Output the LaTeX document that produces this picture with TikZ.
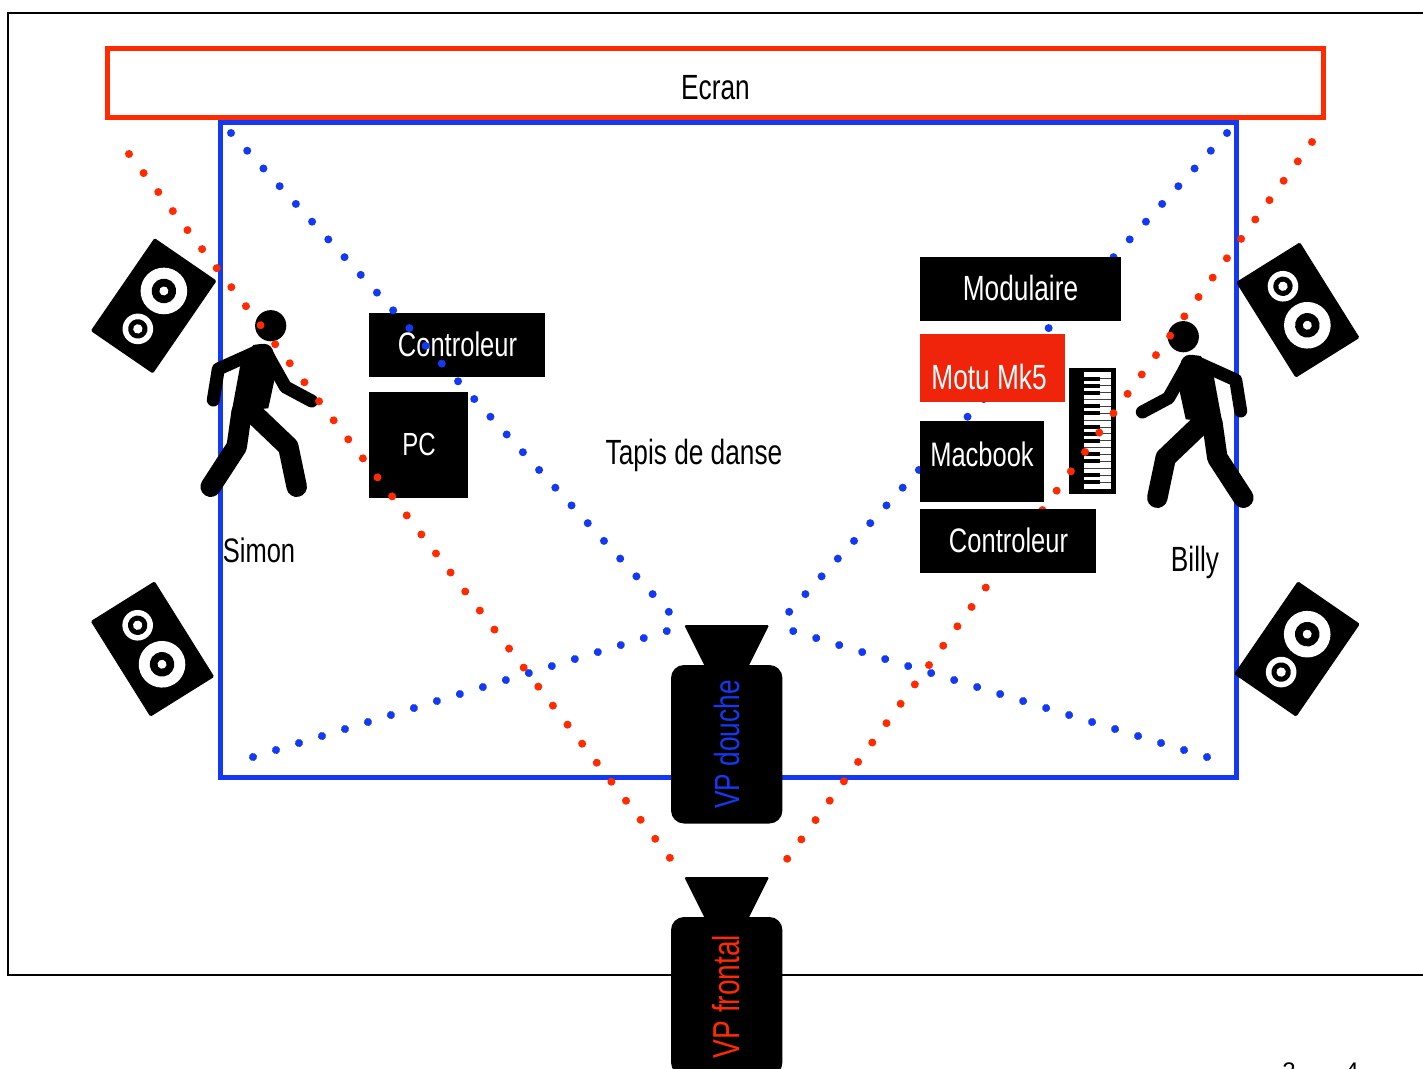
\documentclass[tikz,border=0pt]{standalone}
\usepackage{fontspec}
\setmainfont[FakeStretch=0.75]{Liberation Sans}
\newfontfamily\plainfont{Liberation Sans}
\definecolor{myblue}{HTML}{1339F5}
\definecolor{myred}{HTML}{FF2A00}
\definecolor{boxred}{HTML}{F0240A}
\tikzset{
  lab/.style={font=\fontsize{35}{40}\selectfont,inner sep=0pt,anchor=base},
  whitelab/.style={lab,text=white},
  smalllab/.style={font=\fontsize{34}{38}\selectfont},
  blackbox/.style={fill=black,draw=none,inner sep=0pt},
  bluedots/.style={myblue,line width=8pt,line cap=round,dash pattern=on 0.01pt off 24.02pt},
  reddotsL/.style={myred,line width=8pt,line cap=round,dash pattern=on 0.01pt off 23.98pt},
  reddotsR/.style={myred,line width=8pt,line cap=round,dash pattern=on 0.01pt off 24pt},
  limb/.style={line width=#1,line cap=round,line join=round,black},
  speaker/.pic={
    \fill[black,rounded corners=1.5pt] (-37.7,-56.3) rectangle (37.7,56.3);
    \fill[white] (0,-18) circle (23.3);
    \fill[black] (0,-18) circle (12.3);
    \fill[white] (0,-18) circle (4.5);
    \fill[white] (0,28) circle (15.3);
    \fill[black] (0,28) circle (9.7);
    \fill[white] (0,28) circle (4.7);
  },
  walker/.pic={
    \fill[black] (270.7,325.7) circle (15.6);
    \draw[limb=13pt] (256.7,351.7) -- (218.3,369) -- (213.3,400);
    \draw[limb=13pt] (268,356) -- (285.5,387) -- (311.7,401);
    \fill[black] (264,353) circle (9.2);
    \fill[black] (240,366.7) -- (231.7,411.7) -- (268.3,408.3) -- (274,382) -- (278,362) -- (272,349) -- (262,343.8) -- (253.3,345) -- cycle;
    \draw[limb=20.5pt] (241.7,411.7) -- (236.7,446.7) -- (210.7,486.7);
    \draw[limb=20.5pt] (253.3,413.3) -- (288.3,446.7) -- (296.7,486.7);
  },
  projector/.pic={
    \fill[black,rounded corners=1.5pt] (-42.5,-40) -- (42.5,-40) -- (21.5,2) -- (-21.5,2) -- cycle;
    \fill[black,rounded corners=13pt] (-55.7,0) rectangle (55.7,158.5);
  }
}
\begin{document}
\begin{tikzpicture}[x=1pt,y=-1pt]
\useasboundingbox (0,0) rectangle (1423,1068);
\begin{scope}
\clip (0,0) rectangle (1423,1068);
\fill[white] (0,0) rectangle (1423,1068);
% frame
\draw[black,line width=2.5pt] (1440,13) -- (8,13) -- (8,975) -- (1440,975);
% screen and floor
\node[draw=myred,line width=5pt,minimum width=1216.5pt,minimum height=69pt,inner sep=0pt] (ecran) at (715.5,83) {};
\node[lab] (ecranlab) at (715.5,99) {Ecran};
\node[draw=myblue,line width=5pt,minimum width=1016.5pt,minimum height=655.5pt,inner sep=0pt] (tapis) at (728.5,450) {};
\node[lab] (tapislab) at (694,464) {Tapis de danse};
% speakers
\pic[rotate=-34.5] at (153.7,305.8) {speaker};
\pic[rotate=212] at (1297.8,310) {speaker};
\pic[rotate=212] at (152.5,649) {speaker};
\pic[rotate=-34.5] at (1297,649) {speaker};
% people
\pic at (0,0) {walker};
\pic[xscale=-1] at (1454,11) {walker};
\node[lab,smalllab] (simon) at (259,562) {Simon};
\node[lab] (billy) at (1195,571) {Billy};
% keyboard
\node[fill=black,minimum width=46.5pt,minimum height=126pt,inner sep=0pt] (piano) at (1092.5,430.5) {};
\fill[white] (1083.5,372) rectangle (1111,489);
\foreach \k in {1,...,16} \fill[black!75] (1083.5,372+\k*6.88-0.5) rectangle (1111,372+\k*6.88+0.5);
\foreach \k in {379,386,393,406,413,427,434,441,454,461,475,482} \fill[black] (1083.5,\k-2.2) rectangle (1100,\k+2.2);
% left desk
\node[blackbox,minimum width=176pt,minimum height=64pt] (ctrlL) at (457,345) {};
\node[whitelab,smalllab] (ctrlLlab) at (457.5,356) {Controleur};
\node[blackbox,minimum width=99pt,minimum height=106pt] (pc) at (418.5,445) {};
\node[whitelab,font=\fontsize{32}{36}\selectfont] (pclab) at (419,455.5) {PC};
% projector beams
\coordinate (rl1) at (129,154); \coordinate (rl2) at (670,858);
\coordinate (rr1) at (1312,142); \coordinate (rr2) at (787,859);
\coordinate (bl1) at (231,133); \coordinate (bl2) at (669,612);
\coordinate (br1) at (1227,133); \coordinate (br2) at (789,612);
\coordinate (bb1) at (253,757); \coordinate (bb2) at (667,631);
\coordinate (bc1) at (1207,757); \coordinate (bc2) at (793,631);
\draw[bluedots] (bl1) -- (bl2);
\draw[bluedots] (br1) -- (br2);
\draw[bluedots] (bb1) -- (bb2);
\draw[bluedots] (bc1) -- (bc2);
\draw[reddotsL] (rl1) -- (rl2);
\draw[reddotsR] (rr1) -- (rr2);
% right desk
\node[blackbox,minimum width=201pt,minimum height=64pt] (modul) at (1020.5,289) {};
\node[whitelab] (modullab) at (1020.5,300) {Modulaire};
\node[fill=boxred,minimum width=145pt,minimum height=68pt,inner sep=0pt] (motu) at (992.5,368) {};
\node[whitelab] (motulab) at (989,389) {Motu Mk5};
\node[blackbox,minimum width=124pt,minimum height=81pt] (macb) at (982,461.5) {};
\node[whitelab,smalllab] (macblab) at (982,466) {Macbook};
\node[blackbox,minimum width=176pt,minimum height=64pt] (ctrlR) at (1008,541) {};
\node[whitelab,smalllab] (ctrlRlab) at (1008.5,552) {Controleur};
% projectors
\pic at (726.7,665) {projector};
\node[lab,text=myblue,rotate=90] (vpd) at (739,744.5) {VP douche};
\pic at (726.7,917) {projector};
\node[lab,text=myred,rotate=90,font=\fontsize{37.5}{42}\selectfont] (vpf) at (739.5,996.5) {VP frontal};
% page numbers cut by the edge
\node[inner sep=0pt,anchor=base,font=\plainfont\fontsize{24}{28}\selectfont] (num2) at (1289,1079) {2};
\node[inner sep=0pt,anchor=base,font=\plainfont\fontsize{24}{28}\selectfont] (num4) at (1352,1079) {4};
\end{scope}
\end{tikzpicture}
\end{document}
